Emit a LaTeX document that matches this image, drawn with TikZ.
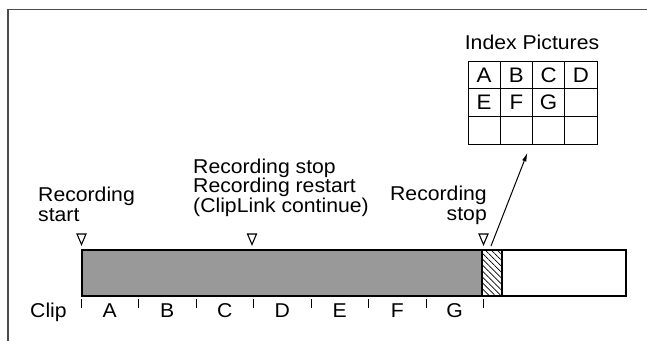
\documentclass[tikz,border=0pt]{standalone}
\usepackage{fontspec}
\setmainfont{Liberation Sans}[FakeStretch=1.06]
\usetikzlibrary{patterns.meta,arrows.meta}
\begin{document}
\begin{tikzpicture}[x=1pt,y=-1pt,
  txt/.style={inner sep=0pt, font=\fontsize{20}{19.5}\selectfont},
  gtxt/.style={inner sep=0pt, font=\fontsize{21}{21}\selectfont},
  frameline/.style={draw=black!70, line width=1.5pt},
  barline/.style={line width=1.8pt},
  gridline/.style={line width=1.2pt},
  tickline/.style={line width=0.9pt},
  marker/.style={line width=1.1pt},
  pointer/.style={line width=1pt, -{Latex[length=9pt,width=4.5pt]}}]
\useasboundingbox (0,0) rectangle (647,341);
% frame
\draw[frameline] (647,9.5) -- (8,9.5) -- (8,341);
% index pictures
\node[txt, anchor=base] (title) at (532,49) {Index Pictures};
\node[gridline, draw, minimum width=129pt, minimum height=83pt, anchor=north west, inner sep=0pt] (grid) at (468,61) {};
\draw[gridline] (500.25,61) -- (500.25,144) (532.5,61) -- (532.5,144) (564.75,61) -- (564.75,144)
  (468,88.67) -- (597,88.67) (468,116.33) -- (597,116.33);
\node[gtxt] (gA) at (484.1,74.8) {A};
\node[gtxt] (gB) at (516.4,74.8) {B};
\node[gtxt] (gC) at (548.6,74.8) {C};
\node[gtxt] (gD) at (580.9,74.8) {D};
\node[gtxt] (gE) at (484.1,102.5) {E};
\node[gtxt] (gF) at (516.4,102.5) {F};
\node[gtxt] (gG) at (548.6,102.5) {G};
% bar
\fill[black!40] (81,249) rectangle (482,295);
\fill[pattern={Lines[angle=-45,distance=4.2pt,line width=0.7pt]}] (482,249) rectangle (502,295);
\draw[gridline] (482,249) -- (482,295) (502,249) -- (502,295);
\node[barline, draw, minimum width=544pt, minimum height=46pt, anchor=north west, inner sep=0pt] (bar) at (81,249) {};
% labels above
\node[txt, anchor=base west, align=left] (lstart) at (38,221) {Recording\\start};
\node[txt, anchor=base west, align=left] (lmid) at (193,212) {Recording stop\\Recording restart\\(ClipLink continue)};
\node[txt, anchor=base east, align=right] (lstop) at (487,220) {Recording\\stop};
% markers
\foreach \mx/\mn in {81.5/ma,252/mb,483.5/mc}{
  \coordinate (\mn) at (\mx,244.5);
  \draw[marker] (\mx-4.5,234) -- (\mx+4.5,234) -- (\mn) -- cycle;
}
% arrow
\coordinate (atail) at (491,246);
\coordinate (atip) at (527.5,152.5);
\draw[pointer] (atail) -- (atip);
% ticks and clip letters
\node[txt, anchor=base west] (clip) at (30,317) {Clip};
\foreach \tx in {81,138.5,196,253.5,311,368.5,426,483}{
  \draw[tickline] (\tx,299) -- (\tx,307.5);
}
\foreach \cx/\cl in {109.75/A,167.25/B,224.75/C,282.25/D,339.75/E,397.25/F,454.5/G}{
  \node[txt, anchor=base] (c\cl) at (\cx,317) {\cl};
}
\end{tikzpicture}
\end{document}
